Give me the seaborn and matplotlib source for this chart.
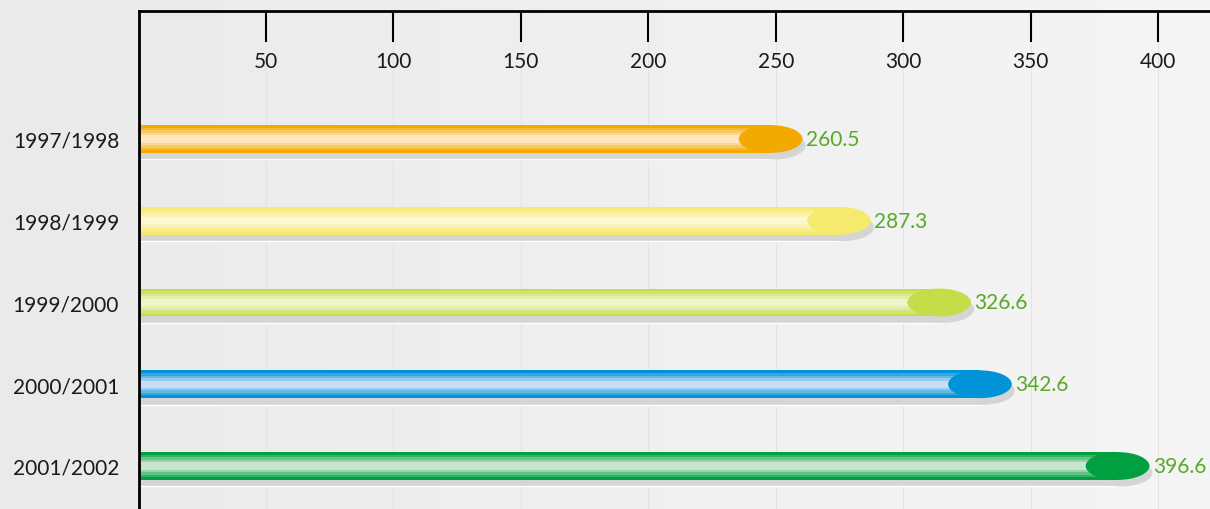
import numpy as np
import matplotlib
matplotlib.use("Agg")
from matplotlib import pyplot as plt
from matplotlib.patches import Ellipse
import seaborn as sns

# data ########################################################################
seasons = ["1997/1998", "1998/1999", "1999/2000", "2000/2001", "2001/2002"]
values = [260.5, 287.3, 326.6, 342.6, 396.6]
ticks = [50, 100, 150, 200, 250, 300, 350, 400]

# colours: edge/cap colour and light centre colour of each tube
edge_cols = ["#f3aa00", "#f5e96e", "#c4de4a", "#0093d8", "#00a040"]
light_cols = ["#fde6c0", "#fdf8d2", "#eef5cc", "#c6def2", "#c8e6cf"]

sns.set_theme(style="white")
plt.rcParams["font.family"] = ["Lato", "DejaVu Sans"]

fig = plt.figure(figsize=(12.1, 5.1), dpi=100)

# background gradient over the whole figure
bg = fig.add_axes([0, 0, 1, 1], zorder=-10)
grad = np.linspace(0, 1, 256).reshape(1, -1)
bg.imshow(grad, aspect="auto", cmap=matplotlib.colors.LinearSegmentedColormap.from_list(
    "bg", ["#eaeaea", "#f5f5f5"]), extent=[0, 1, 0, 1])
bg.axis("off")

ax = fig.add_axes([138.5 / 1210, 0, 1 - 138.5 / 1210, 1 - 12 / 510])
ax.patch.set_alpha(0)

bar_h = 0.34
cap_w = 25.0
shadow_dy = 0.08
shadow_dx = 1.2

tube = [v - cap_w / 2 for v in values]

# shadows
for i, v in enumerate(values):
    ax.barh(i + shadow_dy, tube[i] + shadow_dx, height=bar_h, color="#d5d5d5", zorder=1)
    ax.add_patch(Ellipse((tube[i] + shadow_dx, i + shadow_dy), cap_w, bar_h,
                         color="#d5d5d5", zorder=1, lw=0))

# base tubes with seaborn
sns.barplot(x=tube, y=seasons, hue=seasons, palette=edge_cols, orient="h",
            width=bar_h, legend=False, ax=ax, zorder=2, linewidth=0, saturation=1)

# striped highlight inside tubes
fracs = [0.8, 0.62, 0.44, 0.26]
for i, v in enumerate(values):
    c0 = np.array(matplotlib.colors.to_rgb(edge_cols[i]))
    c1 = np.array(matplotlib.colors.to_rgb(light_cols[i]))
    for k, f in enumerate(fracs):
        t = (k + 1) / len(fracs)
        col = c0 + (c1 - c0) * t
        ax.barh(i, tube[i], height=bar_h * f, color=col, zorder=3, lw=0)
    ax.add_patch(Ellipse((tube[i], i), cap_w, bar_h, color=edge_cols[i], zorder=4, lw=0))
    ax.text(v + 1.3, i, f"{v}", color="#5aa82a", fontsize=15, va="center",
            ha="left", zorder=5)

ax.set_xlim(0, (1210 - 138.5) / 2.549)
ax.set_ylim(4 + 43 / 81.75, -128 / 81.75)

ax.set_xticks(ticks)
ax.set_xticklabels([str(t) for t in ticks])
ax.xaxis.set_ticks_position("top")
ax.tick_params(axis="x", direction="in", length=22, width=1.5, color="black",
               labelsize=15, pad=-43.5, labelcolor="#1a1a1a")
ax.tick_params(axis="y", length=0, pad=14, labelsize=15, labelcolor="#1a1a1a")
ax.set_xlabel("")
ax.set_ylabel("")

for t in ticks:
    ax.axvline(t, color="#e4e4e4", lw=0.8, zorder=0)

for s in ["right", "bottom"]:
    ax.spines[s].set_visible(False)
for s in ["left", "top"]:
    ax.spines[s].set_color("black")
    ax.spines[s].set_linewidth(2)
    ax.spines[s].set_zorder(6)

fig.savefig("out.png", dpi=100)
